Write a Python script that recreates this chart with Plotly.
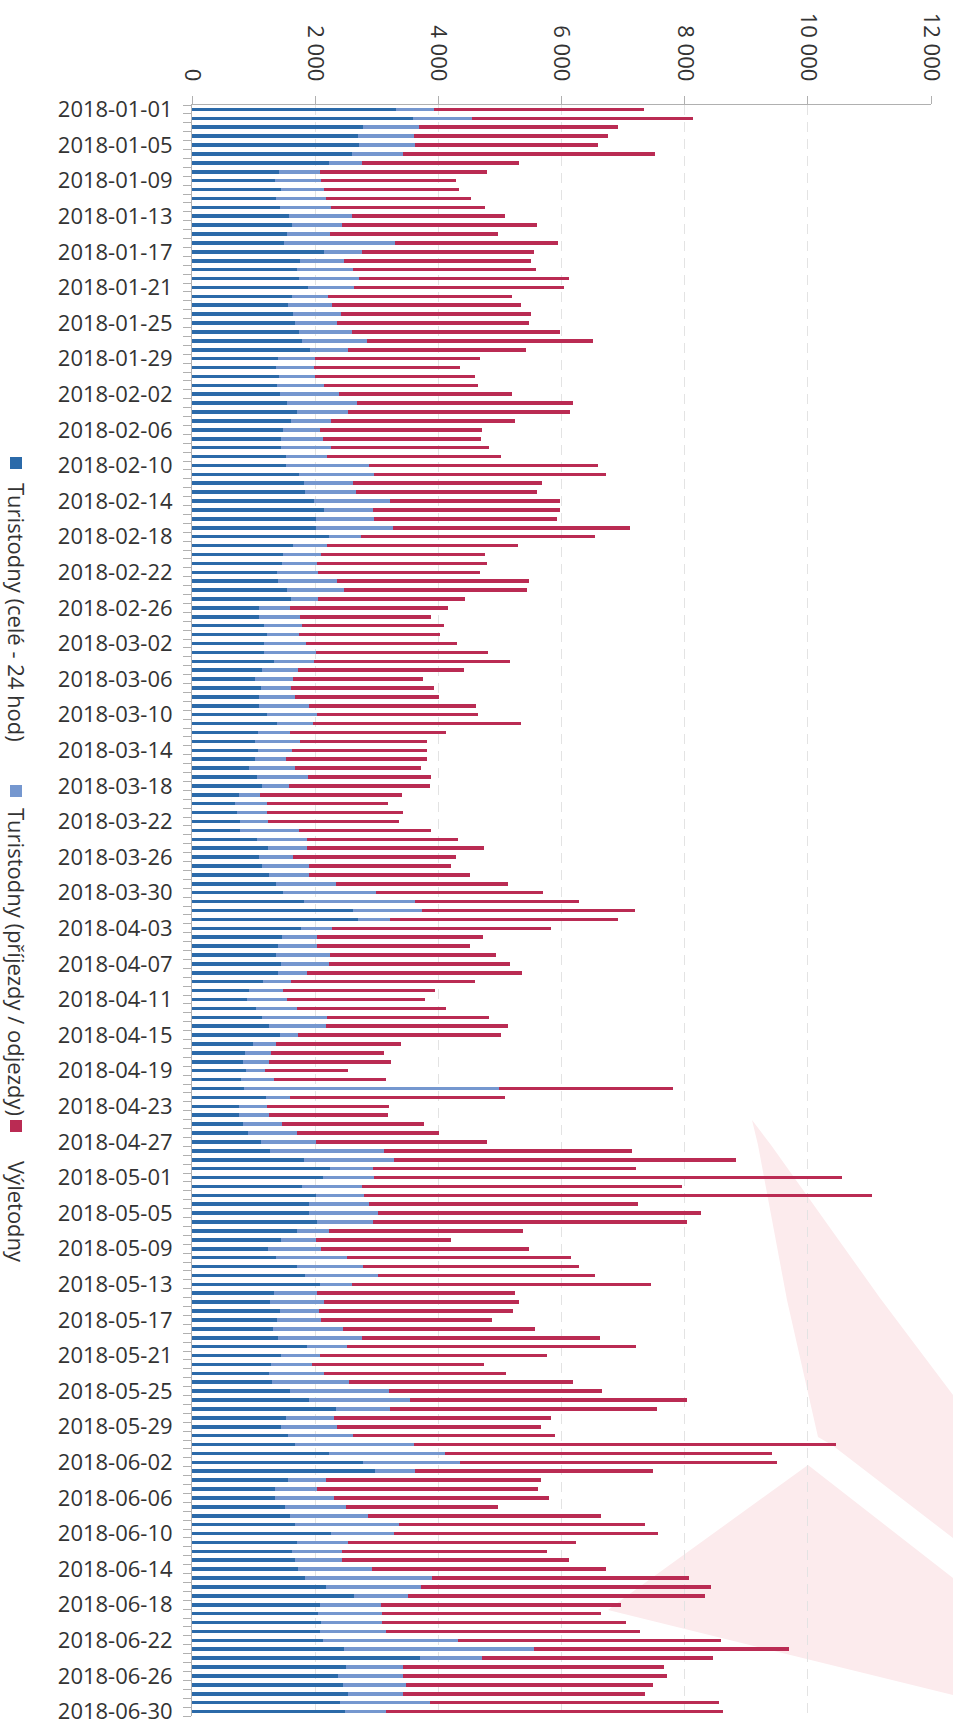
import pandas as pd
import plotly.graph_objects as go

dates = [d.strftime("%Y-%m-%d") for d in pd.date_range("2018-01-01", "2018-06-30", freq="D")]

turistodny_cele = [
    3319, 3595, 2784, 2698, 2707, 2595, 2224, 1414, 1353, 1448, 1371, 1431, 1578, 1621, 1543, 1500,
    2147, 1759, 1707, 1741, 1888, 1629, 1560, 1647, 1672, 1741, 1793, 1922, 1397, 1371, 1414, 1388, 1431,
    1543, 1698, 1612, 1483, 1448, 1448, 1534, 1526, 1741, 1819, 1836, 1983, 2147, 2017, 2009, 2224, 1647,
    1483, 1466, 1388, 1397, 1543, 1612, 1095, 1095, 1172, 1224, 1172, 1172, 1336, 1138, 1026, 1121, 1095,
    1095, 1224, 1388, 1078, 1026, 1078, 1026, 931, 1060, 1138, 767, 698, 724, 784, 784, 1060, 1241,
    1095, 1138, 1250, 1371, 1483, 1819, 2621, 2698, 1776, 1466, 1397, 1371, 1448, 1397, 1155, 931, 897,
    1034, 1138, 1250, 1422, 991, 862, 836, 879, 802, 845, 1207, 767, 767, 836, 914, 1121,
    1259, 1819, 2241, 2121, 1793, 2009, 1897, 1905, 2034, 1698, 1448, 1241, 1371, 1698, 1836, 2078, 1336,
    1259, 1431, 1388, 1319, 1397, 1871, 1448, 1284, 1250, 1302, 1595, 1905, 2345, 1526, 1448, 1560, 1672,
    2224, 2776, 2974, 1560, 1353, 1353, 1517, 1595, 1672, 2259, 1707, 1621, 1672, 1724, 1836, 2181, 2629,
    2078, 2052, 2095, 2078, 2121, 2474, 3698, 2500, 2371, 2457, 2534, 2405, 2491,
]

turistodny_prijezdy = [
    612, 957, 905, 914, 914, 836, 543, 664, 741, 690, 802, 819, 1017, 819, 698, 1802,
    612, 707, 905, 974, 741, 586, 716, 776, 690, 862, 1043, 612, 603, 612, 586, 750, 948,
    1138, 836, 647, 595, 681, 810, 664, 1345, 1216, 802, 819, 1233, 793, 940, 1250, 526, 543,
    612, 569, 655, 957, 931, 440, 491, 664, 621, 517, 681, 836, 647, 586, 621, 491, 578,
    802, 810, 578, 517, 733, 552, 500, 741, 828, 440, 345, 526, 500, 457, 948, 810, 629,
    543, 767, 647, 974, 1500, 1802, 1112, 517, 500, 569, 638, 871, 776, 466, 448, 552, 647,
    672, 1060, 931, 302, 371, 414, 414, 310, 526, 4138, 379, 457, 491, 629, 793, 888,
    1862, 1466, 698, 836, 966, 776, 974, 1121, 905, 526, 560, 853, 1138, 1078, 1190, 526, 698,
    879, 629, 707, 1129, 1362, 638, 629, 664, 897, 1250, 1603, 1629, 871, 784, 905, 1060, 1931,
    1888, 1569, 647, 621, 681, 957, 991, 1267, 1690, 1026, 828, 810, 759, 1198, 2060, 1543, 879,
    991, 1034, 991, 1069, 2198, 3078, 1009, 931, 1060, 1017, 897, 1466, 664,
]

vyletodny = [
    3414, 3586, 3233, 3147, 2974, 4095, 2543, 2707, 2190, 2198, 2353, 2509, 2491, 3164, 2733, 2638,
    2802, 3043, 2966, 3405, 3414, 2974, 3069, 3078, 3103, 3371, 3672, 2897, 2681, 2371, 2603, 2509, 2819,
    3509, 3603, 2991, 2638, 2569, 2569, 2819, 3716, 3759, 3060, 2940, 2759, 3034, 2974, 3853, 3802, 3103,
    2664, 2750, 2629, 3112, 2966, 2379, 2569, 2129, 2293, 2293, 2448, 2802, 3181, 2698, 2103, 2319, 2336,
    2716, 2612, 3379, 2526, 2060, 2190, 2293, 2052, 1991, 2284, 2293, 1957, 2207, 2121, 2147, 2457, 2879,
    2647, 2293, 2621, 2793, 2724, 2664, 3466, 3707, 3552, 2690, 2474, 2698, 2940, 3500, 3000, 2466, 2233,
    2422, 2629, 2948, 3293, 2034, 1845, 1983, 1336, 1819, 2828, 3491, 1974, 1922, 2302, 2310, 2784,
    4026, 5552, 4276, 7595, 5190, 8259, 4371, 5233, 5103, 3155, 2190, 3371, 3647, 3509, 3517, 4853, 3216,
    3164, 3155, 2776, 3121, 3862, 4698, 3690, 2793, 2957, 3638, 3466, 4509, 4328, 3526, 3310, 3267, 6853,
    5302, 5147, 3862, 3483, 3578, 3491, 2457, 3776, 4000, 4284, 3707, 3336, 3690, 3802, 4181, 4707, 4828,
    3897, 3552, 3966, 4121, 4267, 4138, 3759, 4241, 4284, 4009, 3931, 4681, 5474,
]

series_names = ["Turistodny (celé - 24 hod)", "Turistodny (příjezdy / odjezdy)", "Výletodny"]
series_colors = ["#2b6aa9", "#7597cf", "#ba2b53"]
value_ticks = [0, 2000, 4000, 6000, 8000, 10000, 12000]
value_tick_labels = ["0", "2 000", "4 000", "6 000", "8 000", "10 000", "12 000"]

W, H = 953, 1728
PL, PR, PT, PB = 192, 931, 105, 1716          # plot area in page pixels
L, R, T, B = PL, W - PR, PT, H - PB
PW, PH = PR - PL, PB - PT


def px(x):
    return (x - PL) / PW


def py(y):
    return (PB - y) / PH


FONT = "Open Sans"
TXT = "#333333"

fig = go.Figure()
for name, vals, col in zip(series_names, [turistodny_cele, turistodny_prijezdy, vyletodny], series_colors):
    fig.add_trace(go.Bar(
        x=vals, y=dates, orientation="h", name=name,
        marker=dict(color=col, line=dict(width=0)),
        showlegend=False,
    ))

ticktext = [d if i % 4 == 0 else "" for i, d in enumerate(dates)]


def path(points):
    return "M " + " L ".join(f"{px(a):.5f},{py(b):.5f}" for a, b in points) + " Z"


# faint watermark
wm1 = [(752, 1120), (771, 1145), (880, 1298), (953, 1395), (953, 1538), (832, 1445), (818, 1437),
       (787, 1300), (758, 1145)]
wm2 = [(808, 1465), (953, 1578), (953, 1695), (608, 1610), (624, 1598)]
shapes = []
for pts in (wm1, wm2):
    shapes.append(dict(type="path", path=path(pts), xref="paper", yref="paper",
                       fillcolor="#fcebed", line=dict(width=0), layer="below"))

# rotated legend: (square centre y, text centre y) in page pixels
legend_items = [(463, 612), (791, 962), (1126, 1212)]
annotations = []
for (sq_y, tx_y), name, col in zip(legend_items, series_names, series_colors):
    shapes.append(dict(type="rect", xref="paper", yref="paper",
                       x0=px(10), x1=px(22), y0=py(sq_y + 6), y1=py(sq_y - 6),
                       fillcolor=col, line=dict(width=0)))
    annotations.append(dict(text=name, xref="paper", yref="paper", x=px(17), y=py(tx_y),
                            xanchor="center", yanchor="middle", textangle=90, showarrow=False,
                            font=dict(family=FONT, size=22, color=TXT)))

fig.update_layout(
    width=W, height=H,
    margin=dict(l=L, r=R, t=T, b=B, pad=0),
    paper_bgcolor="white", plot_bgcolor="rgba(0,0,0,0)",
    barmode="stack", bargap=0.6,
    font=dict(family=FONT, size=22, color=TXT),
    shapes=shapes, annotations=annotations,
    xaxis=dict(
        range=[0, 12000], side="top", tickmode="array", tickvals=value_ticks, ticktext=value_tick_labels,
        tickangle=90, showgrid=True, gridcolor="#e3e3e3", griddash="10px,7px", gridwidth=1,
        ticks="outside", ticklen=8, tickcolor="#b0b0b0", showline=True, linecolor="#b0b0b0",
        zeroline=False, ticklabelstandoff=7, automargin=False,
        tickfont=dict(family=FONT, size=22, color=TXT),
    ),
    yaxis=dict(
        type="category", categoryorder="array", categoryarray=dates, autorange="reversed",
        tickmode="array", tickvals=dates, ticktext=ticktext, tickson="boundaries",
        ticks="outside", ticklen=8, tickcolor="#b0b0b0", showline=True, linecolor="#b0b0b0",
        showgrid=False, zeroline=False, automargin=False, ticklabelstandoff=14,
        tickfont=dict(family=FONT, size=22, color=TXT),
    ),
)

fig.write_html(
    "out.html",
    config={"displayModeBar": False},
    post_script="document.body.style.margin='0px';document.body.style.overflow='hidden';",
)
